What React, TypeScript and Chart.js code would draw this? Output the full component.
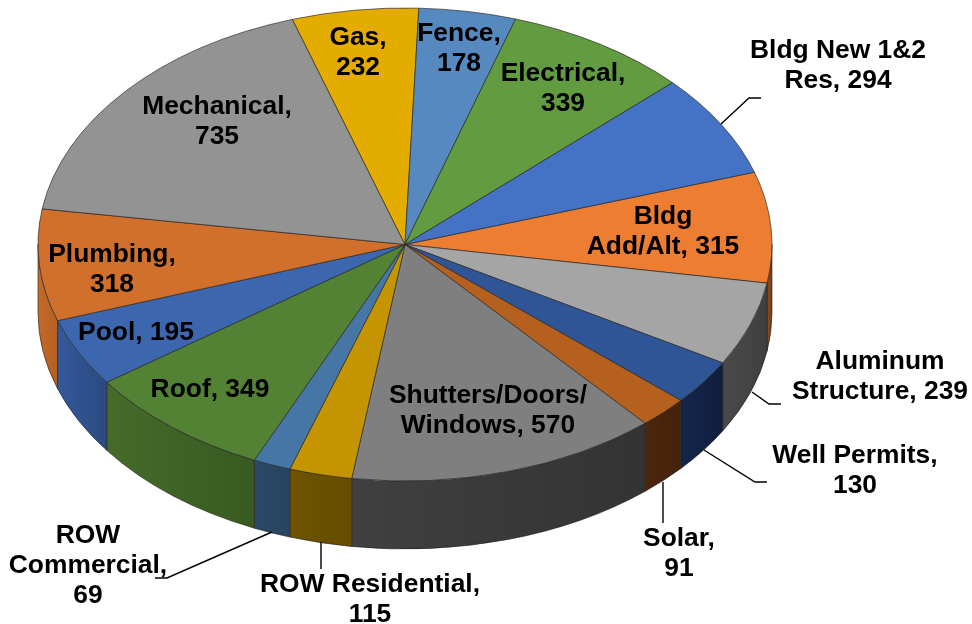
import React, { useEffect, useRef } from "react";
import { Chart, registerables } from "chart.js";

Chart.register(...registerables);

const categories = [
  "Bldg Add/Alt", "Aluminum Structure", "Well Permits", "Solar", "Shutters/Doors/Windows",
  "ROW Residential", "ROW Commercial", "Roof", "Pool", "Plumbing",
  "Mechanical", "Gas", "Fence", "Electrical", "Bldg New 1&2 Res",
];
const permitCounts = [315, 239, 130, 91, 570, 115, 69, 349, 195, 318, 735, 232, 178, 339, 294];

const topColors = [
  "#ED7D31", "#A5A5A5", "#2F5597", "#B5601F", "#7F7F7F",
  "#C49500", "#4676A5", "#548235", "#3C66AE", "#D0702C",
  "#939393", "#E5AC00", "#5589BF", "#639B40", "#4472C4",
];
const wallLeft = [
  "#8F4A1A", "#4A4A4A", "#14264A", "#4C260C", "#404040",
  "#6E5400", "#2B4A68", "#456B2A", "#34599B", "#C46A2A",
  "#555555", "#8A6800", "#335577", "#3C5E27", "#294477",
];
const wallRight = [
  "#7A3E15", "#3F3F3F", "#101E3C", "#44220A", "#333333",
  "#654D00", "#274460", "#385A20", "#2A4A80", "#B5601F",
  "#555555", "#8A6800", "#335577", "#3C5E27", "#294477",
];

const labelLines = [
  ["Bldg", "Add/Alt, 315"],
  ["Aluminum", "Structure, 239"],
  ["Well Permits,", "130"],
  ["Solar,", "91"],
  ["Shutters/Doors/", "Windows, 570"],
  ["ROW Residential,", "115"],
  ["ROW", "Commercial,", "69"],
  ["Roof, 349"],
  ["Pool, 195"],
  ["Plumbing,", "318"],
  ["Mechanical,", "735"],
  ["Gas,", "232"],
  ["Fence,", "178"],
  ["Electrical,", "339"],
  ["Bldg New 1&2", "Res, 294"],
];
const labelCenterX = [663, 880, 855, 679, 488, 370, 88, 210, 136, 112, 217, 358, 459, 563, 838];
const labelFirstY = [215, 360, 454, 537, 394, 583, 534, 388, 331, 253, 105, 36, 32, 72, 49];
const labelLineGap = 30.2;
const labelBaselineNudge = 1.5;

const leaderLines = [
  [[721, 124], [749, 98], [761, 98]],
  [[752, 392], [769, 404], [781, 404]],
  [[704, 450], [755, 482], [767, 482]],
  [[663, 482], [663, 523]],
  [[321, 542], [321, 569]],
  [[272, 532], [167, 578], [155, 578]],
];

const PIE_X = 405;
const PIE_Y = 244.5;
const RADIUS_X = 367;
const RADIUS_Y = 236.5;
const DEPTH = 68;
const ROTATION = 72.2;

const pie3d = {
  id: "pie3d",
  beforeDatasetsDraw(chart: any) {
    const { ctx } = chart;
    const arcs = chart.getDatasetMeta(0).data;
    arcs.forEach((arc: any, i: number) => {
      const a0 = Math.max(arc.startAngle, 0);
      const a1 = Math.min(arc.endAngle, Math.PI);
      if (a1 <= a0) return;
      const xRight = PIE_X + RADIUS_X * Math.cos(a0);
      const xLeft = PIE_X + RADIUS_X * Math.cos(a1);
      const g = ctx.createLinearGradient(xLeft, 0, xRight, 0);
      g.addColorStop(0, wallLeft[i]);
      g.addColorStop(1, wallRight[i]);
      ctx.beginPath();
      ctx.ellipse(PIE_X, PIE_Y, RADIUS_X, RADIUS_Y, 0, a0, a1, false);
      ctx.ellipse(PIE_X, PIE_Y + DEPTH, RADIUS_X, RADIUS_Y, 0, a1, a0, true);
      ctx.closePath();
      ctx.fillStyle = g;
      ctx.fill();
      ctx.lineWidth = 0.8;
      ctx.strokeStyle = "rgba(30,30,30,0.75)";
      ctx.stroke();
    });
    const first = arcs[0];
    ctx.save();
    ctx.translate(PIE_X, PIE_Y);
    ctx.scale(1, RADIUS_Y / RADIUS_X);
    ctx.translate(-first.x, -first.y);
  },
  afterDatasetsDraw(chart: any) {
    chart.ctx.restore();
  },
  afterDraw(chart: any) {
    const { ctx } = chart;
    ctx.save();
    ctx.strokeStyle = "#000000";
    ctx.lineWidth = 1.4;
    leaderLines.forEach((pts) => {
      ctx.beginPath();
      pts.forEach(([x, y], j) => (j ? ctx.lineTo(x, y) : ctx.moveTo(x, y)));
      ctx.stroke();
    });
    ctx.fillStyle = "#000000";
    ctx.font = 'bold 26.4px "Liberation Sans", Arial, sans-serif';
    ctx.textAlign = "center";
    ctx.textBaseline = "middle";
    labelLines.forEach((lines, i) => {
      lines.forEach((t, j) =>
        ctx.fillText(t, labelCenterX[i], labelFirstY[i] + labelBaselineNudge + j * labelLineGap)
      );
    });
    ctx.restore();
  },
};

export default function App() {
  const ref = useRef<HTMLCanvasElement | null>(null);
  useEffect(() => {
    const chart = new Chart(ref.current as HTMLCanvasElement, {
      type: "pie",
      data: {
        labels: categories,
        datasets: [
          {
            data: permitCounts,
            backgroundColor: topColors,
            borderColor: "rgba(35,35,35,0.8)",
            borderWidth: 1,
            radius: RADIUS_X,
            clip: false,
          } as any,
        ],
      },
      options: {
        responsive: false,
        animation: false,
        rotation: ROTATION,
        layout: { padding: 0 },
        plugins: { legend: { display: false }, tooltip: { enabled: false } },
      },
      plugins: [pie3d],
    } as any);
    return () => chart.destroy();
  }, []);
  return (
    <canvas
      ref={ref}
      width={972}
      height={624}
      style={{ position: "absolute", left: 0, top: 0, display: "block" }}
    />
  );
}
